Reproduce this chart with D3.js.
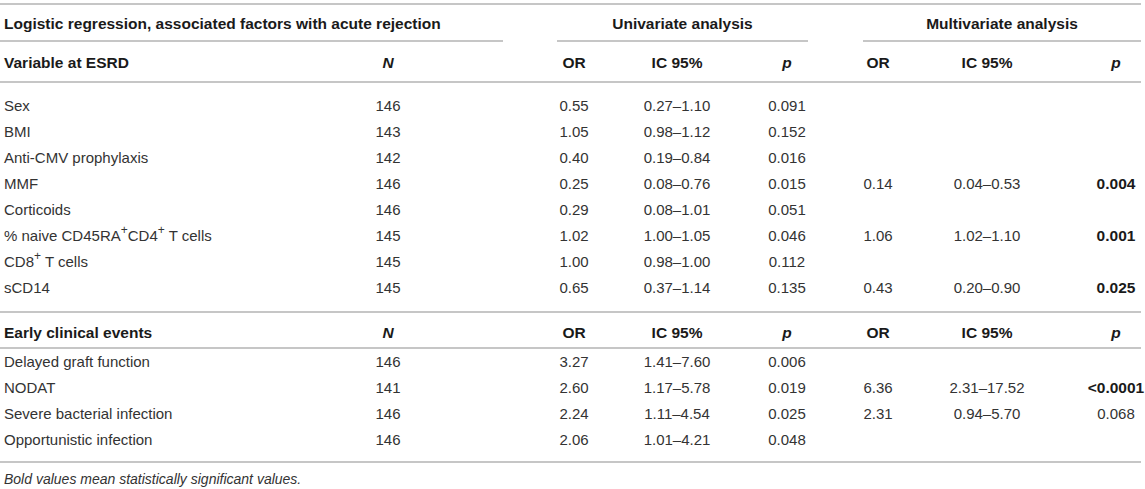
<!DOCTYPE html>
<head>
    <meta charset="utf-8">
    <style>
        body{
            margin:0;
            background:#fff;
        }
        svg text{
            font-family: 'Liberation Sans', Arial, Helvetica, sans-serif;
            font-size: 15px;
            fill: #333;
        }
        svg text.bold{
            font-weight: bold;
            font-size: 15.5px;
            fill: #1a1a1a;
        }
        .ital{
            font-style: italic;
        }
        .rule{
            stroke: #c6c6c6;
            stroke-width: 2px;
            shape-rendering: crispEdges;
        }
    </style>
</head>
<body>
    <div id="chart"></div>
    <script src="https://d3js.org/d3.v7.min.js"></script>
    <script>
        // table values
        var title = "Logistic regression, associated factors with acute rejection";
        var groupLabels = ["Univariate analysis", "Multivariate analysis"];
        var colLabels = ["N", "OR", "IC 95%", "p", "OR", "IC 95%", "p"];

        var esrdVars = ["Sex", "BMI", "Anti-CMV prophylaxis", "MMF", "Corticoids",
            "% naive CD45RA+CD4+ T cells", "CD8+ T cells", "sCD14"];
        var esrdN = [146, 143, 142, 146, 146, 145, 145, 145];
        var esrdOR = ["0.55", "1.05", "0.40", "0.25", "0.29", "1.02", "1.00", "0.65"];
        var esrdIC = ["0.27–1.10", "0.98–1.12", "0.19–0.84", "0.08–0.76", "0.08–1.01", "1.00–1.05", "0.98–1.00", "0.37–1.14"];
        var esrdP = ["0.091", "0.152", "0.016", "0.015", "0.051", "0.046", "0.112", "0.135"];
        var esrdMultiOR = [null, null, null, "0.14", null, "1.06", null, "0.43"];
        var esrdMultiIC = [null, null, null, "0.04–0.53", null, "1.02–1.10", null, "0.20–0.90"];
        var esrdMultiP = [null, null, null, "0.004", null, "0.001", null, "0.025"];

        var earlyVars = ["Delayed graft function", "NODAT", "Severe bacterial infection", "Opportunistic infection"];
        var earlyN = [146, 141, 146, 146];
        var earlyOR = ["3.27", "2.60", "2.24", "2.06"];
        var earlyIC = ["1.41–7.60", "1.17–5.78", "1.11–4.54", "1.01–4.21"];
        var earlyP = ["0.006", "0.019", "0.025", "0.048"];
        var earlyMultiOR = [null, "6.36", "2.31", null];
        var earlyMultiIC = [null, "2.31–17.52", "0.94–5.70", null];
        var earlyMultiP = [null, "<0.0001", "0.068", null];

        var footnote = "Bold values mean statistically significant values.";

        var width = 1145, height = 489;

        var svg = d3.select("#chart").append("svg")
            .attr("width", width)
            .attr("height", height);

        // column centres
        var colKeys = ["n", "or", "ic", "p", "mor", "mic", "mp"];
        var x = d3.scaleOrdinal()
            .domain(colKeys)
            .range([388, 574, 677, 787, 878, 987, 1116]);
        var xLeft = 4;

        // rows of each block
        var yEsrd = d3.scaleLinear().domain([0, 1]).range([106, 132]);
        var yEarly = d3.scaleLinear().domain([0, 1]).range([362, 388]);

        function rule(y, x0, x1) {
            svg.append("line").attr("class", "rule")
                .attr("x1", x0).attr("x2", x1)
                .attr("y1", y).attr("y2", y);
        }

        function isSig(p) {
            return p != null && parseFloat(p.replace("<", "")) < 0.05;
        }

        // label with "+" raised as superscript
        function labelText(sel, s) {
            var parts = s.split("+");
            parts.forEach(function(part, i) {
                sel.append("tspan").text(part);
                if (i < parts.length - 1) {
                    sel.append("tspan").attr("baseline-shift", "super").attr("font-size", "12px").text("+");
                }
            });
        }

        // horizontal rules
        rule(4, 0, 1141);
        rule(41, 0, 503);
        rule(41, 557, 808);
        rule(41, 863, 1141);
        rule(82, 0, 1141);
        rule(312, 0, 1141);
        rule(348, 0, 1141);
        rule(462, 0, 1141);

        // title and group headers
        svg.append("text").attr("class", "bold")
            .attr("x", xLeft).attr("y", 24).attr("dy", "0.35em")
            .text(title);

        svg.selectAll(".grp").data(groupLabels).enter().append("text")
            .attr("class", "bold grp")
            .attr("x", function(d, i) { return i == 0 ? (557 + 808) / 2 : (863 + 1141) / 2; })
            .attr("y", 24).attr("dy", "0.35em")
            .attr("text-anchor", "middle")
            .text(function(d) { return d; });

        function header(label, y) {
            svg.append("text").attr("class", "bold")
                .attr("x", xLeft).attr("y", y).attr("dy", "0.35em")
                .text(label);
            svg.append("g").selectAll("text").data(colLabels).enter().append("text")
                .attr("class", function(d) { return (d == "N" || d == "p") ? "bold ital" : "bold"; })
                .attr("x", function(d, i) { return x(colKeys[i]); })
                .attr("y", y).attr("dy", "0.35em")
                .attr("text-anchor", "middle")
                .text(function(d) { return d; });
        }

        header("Variable at ESRD", 63);
        header("Early clinical events", 333);

        function block(vars, n, or, ic, p, mor, mic, mp, y) {
            var rows = vars.map(function(v, i) {
                return {name: v, n: n[i], or: or[i], ic: ic[i], p: p[i], mor: mor[i], mic: mic[i], mp: mp[i]};
            });
            var g = svg.append("g").selectAll("g").data(rows).enter().append("g")
                .attr("transform", function(d, i) { return "translate(0," + y(i) + ")"; });

            g.append("text")
                .attr("x", xLeft).attr("dy", "0.35em")
                .each(function(d) { labelText(d3.select(this), d.name); });

            g.selectAll(".cell")
                .data(function(d) {
                    return colKeys.map(function(k) { return {key: k, value: d[k]}; })
                        .filter(function(c) { return c.value != null; });
                })
                .enter().append("text")
                .attr("class", function(c) { return c.key == "mp" && isSig(c.value) ? "cell bold" : "cell"; })
                .attr("x", function(c) { return x(c.key); })
                .attr("dy", "0.35em")
                .attr("text-anchor", "middle")
                .text(function(c) { return c.value; });
        }

        block(esrdVars, esrdN, esrdOR, esrdIC, esrdP, esrdMultiOR, esrdMultiIC, esrdMultiP, yEsrd);
        block(earlyVars, earlyN, earlyOR, earlyIC, earlyP, earlyMultiOR, earlyMultiIC, earlyMultiP, yEarly);

        svg.append("text").attr("class", "ital")
            .attr("x", xLeft).attr("y", 479).attr("dy", "0.35em")
            .style("font-size", "14px")
            .text(footnote);
    </script>
</body>
